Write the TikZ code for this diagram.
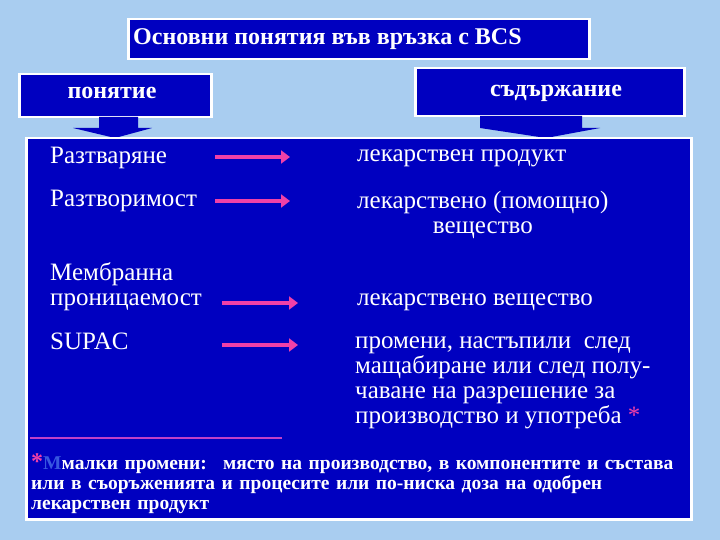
\documentclass[tikz,border=0pt]{standalone}
\usepackage{fontspec}
\setmainfont{Liberation Serif}
\usetikzlibrary{arrows.meta}
\definecolor{bgc}{HTML}{A9CDF0}
\definecolor{boxc}{HTML}{0000C0}
\definecolor{pinkc}{HTML}{F040A8}
\definecolor{linec}{HTML}{C040C8}
\definecolor{mblue}{HTML}{3858E0}
\begin{document}
\begin{tikzpicture}[x=1pt,y=-1pt,
  panel/.style={fill=boxc,draw=white,line width=2.5pt},
  lbl/.style={text=white,anchor=west,inner sep=0pt,font=\fontsize{25}{25}\selectfont,align=left},
  rarrow/.style={pinkc,line width=4pt,-{Triangle[length=9pt,width=13pt]}}]
\useasboundingbox (0,0) rectangle (720,540);
\fill[bgc] (0,0) rectangle (720,540);
% title
\node[panel,minimum width=461pt,minimum height=40pt,anchor=north west,inner sep=0pt] (title) at (127,18) {};
\node[text=white,anchor=west,inner sep=6pt,font=\bfseries\fontsize{24}{24}\selectfont] (ttext) at (title.west) {Основни понятия във връзка с BCS};
% callouts
\node[panel,minimum width=192pt,minimum height=43pt,anchor=north west,inner sep=0pt] (c1) at (18,73) {};
\node[text=white,font=\bfseries\fontsize{24}{24}\selectfont] (c1t) at (112,93) {понятие};
\path[fill=boxc] (99,117) -- (138,117) -- (138,128) -- (152,128) -- (115,138) -- (73,128) -- (99,128) -- cycle;
\node[panel,minimum width=269pt,minimum height=48pt,anchor=north west,inner sep=0pt] (c2) at (414,67) {};
\node[text=white,font=\bfseries\fontsize{24}{24}\selectfont] (c2t) at (556,93) {съдържание};
\path[fill=boxc] (480,116) -- (582,116) -- (582,128) -- (600,128) -- (546,138) -- (480,128) -- cycle;
% main box
\node[panel,minimum width=665pt,minimum height=381pt,anchor=north west,inner sep=0pt] (main) at (25,137) {};
% rows
\node[lbl] (l1) at (50,158) {Разтваряне};
\node[lbl] (l2) at (50,201) {Разтворимост};
\node[lbl] (l3) at (50,287) {Мембранна\\проницаемост};
\node[lbl] (l4) at (50,341) {SUPAC};
\node[lbl] (r1) at (357,158) {лекарствен продукт};
\node[lbl,align=center] (r2) at (357,215) {лекарствено (помощно)\\вещество};
\node[lbl] (r3) at (357,302) {лекарствено вещество};
\node[lbl] (r4) at (355,383) {промени, настъпили~ след\\мащабиране или след полу-\\чаване на разрешение за\\производство и употреба \textcolor{pinkc}{*}};
\coordinate (a1s) at (215,157); \coordinate (a1e) at (290,157);
\coordinate (a2s) at (215,201); \coordinate (a2e) at (290,201);
\coordinate (a3s) at (222,303); \coordinate (a3e) at (298,303);
\coordinate (a4s) at (222,345); \coordinate (a4e) at (298,345);
\draw[rarrow] (a1s) -- (a1e);
\draw[rarrow] (a2s) -- (a2e);
\draw[rarrow] (a3s) -- (a3e);
\draw[rarrow] (a4s) -- (a4e);
\coordinate (ls) at (30,438); \coordinate (le) at (282,438);
\draw[linec,line width=2.5pt] (ls) -- (le);
\node[anchor=north west,inner sep=0pt,text=white,font=\bfseries\fontsize{19.5}{20}\selectfont,align=left,text width=665pt] (foot) at (31,453)
{\textcolor{pinkc}{\fontsize{24}{20}\selectfont *}\textcolor{mblue}{М}малки промени:~ място на производство, в компонентите и състава\\или в съоръженията и процесите или по-ниска доза на одобрен\\лекарствен продукт};
\end{tikzpicture}
\end{document}
